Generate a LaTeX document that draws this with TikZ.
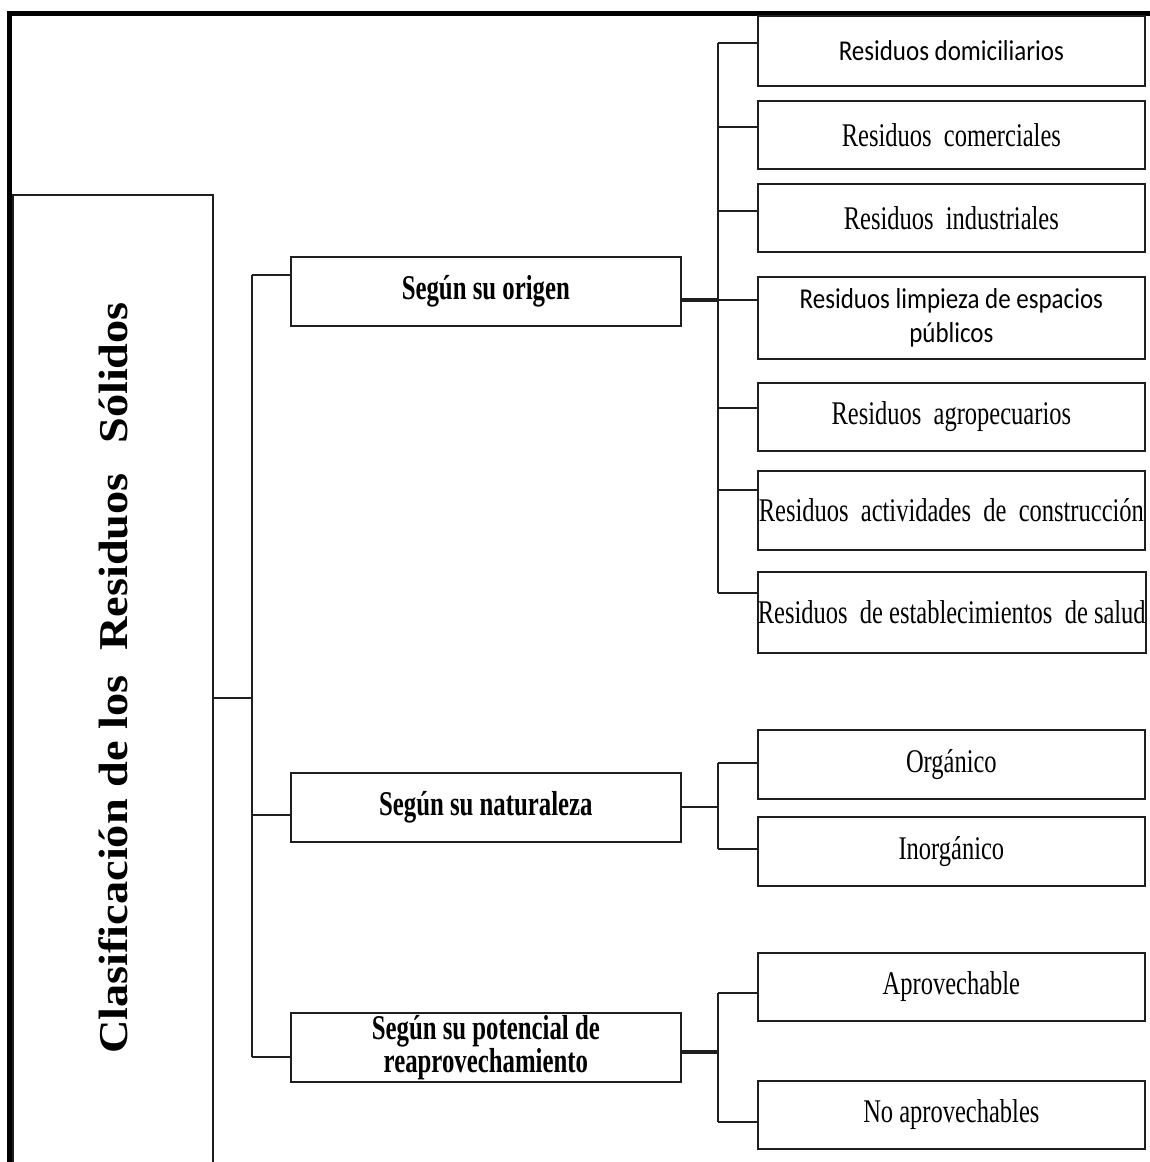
\documentclass[tikz,border=0pt]{standalone}
\usepackage{fontspec}
\setmainfont{Liberation Serif}
\newfontfamily\sansleaf{Carlito}
\usetikzlibrary{calc}
% vertically stretched text, as set in the chart
\newcommand\tallr[1]{\scalebox{1}[1.35]{#1}}
\newcommand\tallb[1]{\scalebox{1}[1.4]{#1}}
\newcommand\talls[1]{\scalebox{1}[1.15]{#1}}
\newcommand\widet[1]{\scalebox{1.13}[1]{#1}}
\newcommand\tightlines{\lineskiplimit-100pt\relax}

\begin{document}
\begin{tikzpicture}[x=1pt,y=-1pt,
  line/.style={draw=black!88},
  box/.style={line, line width=1.7pt, inner sep=0pt, anchor=north west, align=center},
  leaf/.style={box, minimum width=387pt, font=\fontsize{24.5}{30}\selectfont},
  sleaf/.style={box, minimum width=387pt, font=\fontsize{25}{34}\selectfont\sansleaf},
  mid/.style={box, minimum width=390pt, font={\fontsize{24.8}{33}\selectfont\bfseries\tightlines}},
  link/.style={line, line width=1.5pt},
  stub/.style={line, line width=3.6pt},
  frame/.style={draw=black, line width=5pt}]

\useasboundingbox (0,0) rectangle (1150,1162);
\begin{scope}
\clip (0,0) rectangle (1150,1162);

% outer frame (top and left edges)
\draw[frame] (9.5,1170) -- (9.5,13) -- (1160,13);

% left box holding the title
\node[box, minimum width=200pt, minimum height=1000pt] (cls) at (12,194) {};
\node[rotate=90, font=\fontsize{41}{41}\selectfont\bfseries] (ttl) at (113,678)
  {\widet{Clasificación de los\hspace{22pt}Residuos\hspace{26pt}Sólidos}};

% second level
\node[mid, minimum height=69pt] (orig) at (290,256) {\tallb{Según su origen}};
\node[mid, minimum height=69pt] (nat) at (290,772) {\tallb{Según su naturaleza}};
\node[mid, minimum height=69pt] (pot) at (290,1012) {\tallb{Según su potencial de}\\\tallb{reaprovechamiento}};

% third level: by origin
\node[sleaf, minimum height=70pt] (l1) at (757,15) {\talls{Residuos domiciliarios}};
\node[leaf, minimum height=68pt] (l2) at (757,100) {\tallr{Residuos\ \ comerciales}};
\node[leaf, minimum height=68pt] (l3) at (757,183) {\tallr{Residuos\ \ industriales}};
\node[sleaf, minimum height=82pt] (l4) at (757,276) {\talls{Residuos limpieza de espacios}\\\talls{públicos}};
\node[leaf, minimum height=68pt] (l5) at (757,382) {\tallr{Residuos\ \ agropecuarios}};
\node[leaf, minimum height=79pt] (l6) at (757,470) {\tallr{Residuos\ \ actividades\ \ de\ \ construcción}};
\node[leaf, minimum height=81pt] (l7) at (757,571) {\tallr{Residuos\ \ de establecimientos\ \ de salud}};

% third level: by nature
\node[leaf, minimum height=69pt] (o1) at (757,729) {\tallr{Orgánico}};
\node[leaf, minimum height=69pt] (o2) at (757,816) {\tallr{Inorgánico}};

% third level: by reuse potential
\node[leaf, minimum height=68pt] (p1) at (757,952) {\tallr{Aprovechable}};
\node[leaf, minimum height=68pt] (p2) at (757,1080) {\tallr{No aprovechables}};

% bus lines
\coordinate (bus) at (252,0);
\coordinate (sbus) at (718,0);

% root to main bus
\draw[link] (cls.north east |- 0,698) -- (bus |- 0,698);
\draw[link] ([yshift=-19pt]orig.north west) coordinate (m1) -- (m1 -| bus);
\draw[link] ([yshift=-43pt]nat.north west) coordinate (m2) -- (m2 -| bus);
\draw[link] ([yshift=-45pt]pot.north west) coordinate (m3) -- (m3 -| bus);
\draw[link] (m1 -| bus) -- (m3 -| bus);

% origin group
\draw[stub] ([yshift=-44pt]orig.north east) coordinate (s1) -- (s1 -| sbus);
\foreach \n/\d in {l1/28, l2/27, l3/28, l4/24, l5/26, l6/20, l7/22}
  \draw[link] ([yshift=-\d pt]\n.north west) coordinate (c-\n) -- (c-\n -| sbus);
\draw[link] (c-l1 -| sbus) -- (c-l7 -| sbus);

% nature group
\draw[link, line width=2.2pt] ([yshift=-35pt]nat.north east) coordinate (s2) -- (s2 -| sbus);
\foreach \n/\d in {o1/34, o2/33}
  \draw[link] ([yshift=-\d pt]\n.north west) coordinate (c-\n) -- (c-\n -| sbus);
\draw[link] (c-o1 -| sbus) -- (c-o2 -| sbus);

% reuse group
\draw[stub] ([yshift=-40pt]pot.north east) coordinate (s3) -- (s3 -| sbus);
\foreach \n/\d in {p1/41, p2/42}
  \draw[link] ([yshift=-\d pt]\n.north west) coordinate (c-\n) -- (c-\n -| sbus);
\draw[link] (c-p1 -| sbus) -- (c-p2 -| sbus);
\end{scope}
\end{tikzpicture}
\end{document}
